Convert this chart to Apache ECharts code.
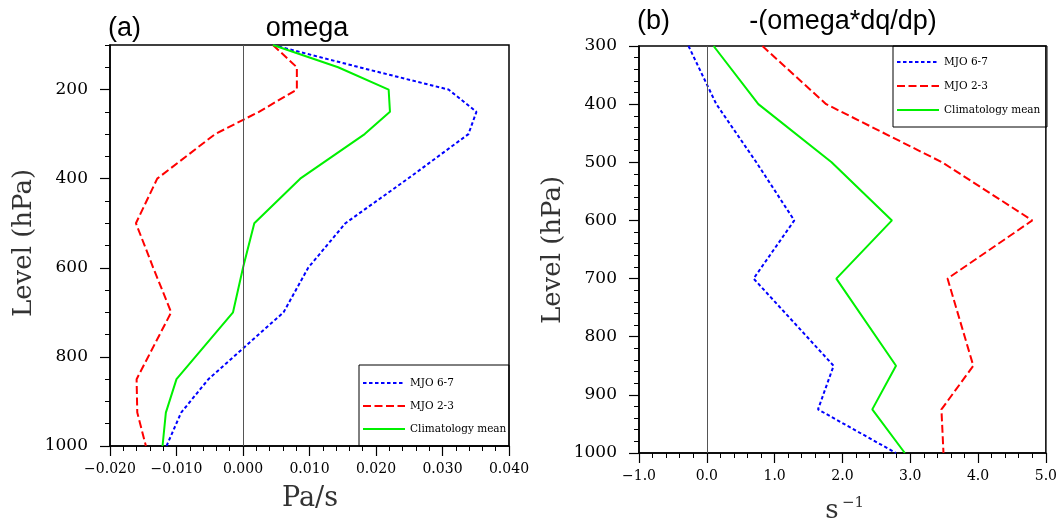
<!DOCTYPE html>
<html>
<head>
<meta charset="utf-8">
<script src="https://cdn.jsdelivr.net/npm/echarts@6/dist/echarts.min.js"></script>
<style>html,body{margin:0;padding:0;background:#fff;}#c{width:1060px;height:522px;}</style>
</head>
<body>
<div id="c"></div>
<script>
// ---- data ----
const seriesNames = ['MJO 6-7', 'MJO 2-3', 'Climatology mean'];

// panel (a): omega (Pa/s)
const levelsA = [100, 150, 200, 250, 300, 400, 500, 600, 700, 850, 925, 1000];
const mjo67A = [0.0045, 0.0175, 0.0309, 0.0351, 0.0339, 0.0248, 0.0154, 0.0098, 0.0061, -0.0052, -0.0093, -0.0115];
const mjo23A = [0.0045, 0.0081, 0.0081, 0.0024, -0.0042, -0.0129, -0.0161, -0.0135, -0.0108, -0.0160, -0.0159, -0.0146];
const climA  = [0.0045, 0.0143, 0.0219, 0.0221, 0.0183, 0.0086, 0.0017, 0.0000, -0.0015, -0.0100, -0.0116, -0.0121];

// panel (b): -(omega*dq/dp) (s^-1)
const levelsB = [300, 400, 500, 600, 700, 850, 925, 1000];
const mjo67B = [-0.27, 0.14, 0.73, 1.29, 0.69, 1.87, 1.64, 2.79];
const mjo23B = [0.82, 1.76, 3.47, 4.80, 3.55, 3.93, 3.46, 3.49];
const climB  = [0.10, 0.76, 1.84, 2.73, 1.91, 2.79, 2.44, 2.92];

// axis tick settings
const majorLevelTicksA = [200, 400, 600, 800, 1000];

// ---- styles ----
const BLUE = '#0000ff', RED = '#ff0000', GREEN = '#00f000';
const styles = [
  {color: BLUE, type: [3.5, 2.5]},
  {color: RED, type: [8, 3.5]},
  {color: GREEN, type: 'solid'}
];
const SERIF = '"DejaVu Serif", serif';
const SANS = '"Liberation Sans", Arial, sans-serif';

function pairs(xs, ys) { return xs.map((x, i) => [x, ys[i]]); }
function fmt(v, d) {
  const s = Math.abs(v).toFixed(d);
  return (v < -1e-9 ? '\u2212' : '') + s;
}

const zeroLine = {
  silent: true, symbol: ['none', 'none'], label: {show: false},
  lineStyle: {color: '#555', width: 1, type: 'solid'},
  data: [{xAxis: 0}], animation: false
};

function mkSeries(name, idx, xs, ys, gi, withZero) {
  const s = {
    name: name, type: 'line', xAxisIndex: gi, yAxisIndex: gi === 0 ? 0 : 2,
    data: pairs(xs, ys), symbol: 'none', showSymbol: false,
    lineStyle: {color: styles[idx].color, width: 2, type: styles[idx].type},
    itemStyle: {color: styles[idx].color},
    z: 3
  };
  if (withZero) s.markLine = zeroLine;
  return s;
}

const axisLineStyle = {color: '#000', width: 1.5};
const legendCommon = {
  data: seriesNames, orient: 'vertical', padding: 0,
  itemWidth: 42, itemHeight: 12,
  itemStyle: {opacity: 0},
  textStyle: {fontFamily: SERIF, fontSize: 10.5, color: '#000', lineHeight: 12}
};

const option = {
  animation: false,
  backgroundColor: '#fff',
  grid: [
    {left: 110, top: 45, width: 399, height: 401, show: true, borderColor: '#000', borderWidth: 1.5, backgroundColor: 'transparent'},
    {left: 639, top: 46, width: 408, height: 407, show: true, borderColor: '#000', borderWidth: 1.5, backgroundColor: 'transparent'}
  ],
  xAxis: [
    {gridIndex: 0, type: 'value', min: -0.02, max: 0.04, interval: 0.01,
     axisLine: {show: true, onZero: false, lineStyle: axisLineStyle},
     axisTick: {show: true, length: 10, lineStyle: {color: '#000', width: 1.2}},
     minorTick: {show: true, splitNumber: 5, length: 5, lineStyle: {color: '#000', width: 1}},
     axisLabel: {margin: 16, fontFamily: SERIF, fontSize: 14, color: '#000', formatter: v => fmt(v, 3)},
     splitLine: {show: false}},
    {gridIndex: 1, type: 'value', min: -1, max: 5, interval: 1,
     axisLine: {show: true, onZero: false, lineStyle: axisLineStyle},
     axisTick: {show: true, length: 10, lineStyle: {color: '#000', width: 1.2}},
     minorTick: {show: true, splitNumber: 5, length: 5, lineStyle: {color: '#000', width: 1}},
     axisLabel: {margin: 16, fontFamily: SERIF, fontSize: 14, color: '#000', formatter: v => fmt(v, 1)},
     splitLine: {show: false}}
  ],
  yAxis: [
    {gridIndex: 0, type: 'value', inverse: true, min: 100, max: 1000, interval: 50, position: 'left',
     axisLine: {show: true, onZero: false, lineStyle: axisLineStyle},
     axisTick: {show: true, length: 5, lineStyle: {color: '#000', width: 1}},
     axisLabel: {margin: 22, fontFamily: SERIF, fontSize: 17, color: '#000',
                 formatter: v => (Math.round(v) % 200 === 0 ? String(Math.round(v)) : '')},
     splitLine: {show: false}},
    {gridIndex: 0, type: 'value', inverse: true, min: 100, max: 1000, interval: 50, position: 'left',
     axisLine: {show: false, onZero: false},
     axisTick: {show: true, length: 10, customValues: majorLevelTicksA, lineStyle: {color: '#000', width: 1.2}},
     axisLabel: {show: false},
     splitLine: {show: false}},
    {gridIndex: 1, type: 'value', inverse: true, min: 300, max: 1000, interval: 100, position: 'left',
     axisLine: {show: true, onZero: false, lineStyle: axisLineStyle},
     axisTick: {show: true, length: 10, lineStyle: {color: '#000', width: 1.2}},
     minorTick: {show: true, splitNumber: 5, length: 5, lineStyle: {color: '#000', width: 1}},
     axisLabel: {margin: 22, fontFamily: SERIF, fontSize: 17, color: '#000', formatter: v => String(Math.round(v))},
     splitLine: {show: false}}
  ],
  legend: [
    Object.assign({}, legendCommon, {left: 362, top: 377, itemGap: 11}),
    Object.assign({}, legendCommon, {left: 896, top: 56, itemGap: 12})
  ],
  graphic: [
    {type: 'rect', shape: {x: 359, y: 365, width: 150, height: 81}, style: {fill: 'none', stroke: '#000', lineWidth: 1}, silent: true},
    {type: 'rect', shape: {x: 893, y: 46, width: 154, height: 81}, style: {fill: 'none', stroke: '#000', lineWidth: 1}, silent: true},
    {type: 'text', x: 108, y: 29, style: {text: '(a)', font: '27px ' + SANS, fill: '#000', textAlign: 'left', textVerticalAlign: 'middle'}},
    {type: 'text', x: 307, y: 29, style: {text: 'omega', font: '27px ' + SANS, fill: '#000', textAlign: 'center', textVerticalAlign: 'middle'}},
    {type: 'text', x: 637, y: 22, style: {text: '(b)', font: '27px ' + SANS, fill: '#000', textAlign: 'left', textVerticalAlign: 'middle'}},
    {type: 'text', x: 843, y: 22, style: {text: '-(omega*dq/dp)', font: '27px ' + SANS, fill: '#000', textAlign: 'center', textVerticalAlign: 'middle'}},
    {type: 'text', x: 24, y: 243, rotation: Math.PI / 2, style: {text: 'Level (hPa)', font: '26px ' + SERIF, fill: '#333', textAlign: 'center', textVerticalAlign: 'middle'}},
    {type: 'text', x: 553, y: 250, rotation: Math.PI / 2, style: {text: 'Level (hPa)', font: '26px ' + SERIF, fill: '#333', textAlign: 'center', textVerticalAlign: 'middle'}},
    {type: 'text', x: 310, y: 499, style: {text: 'Pa/s', font: '27px ' + SERIF, fill: '#333', textAlign: 'center', textVerticalAlign: 'middle'}},
    {type: 'text', x: 832, y: 511, style: {text: 's', font: '26px ' + SERIF, fill: '#333', textAlign: 'center', textVerticalAlign: 'middle'}},
    {type: 'text', x: 842, y: 503, style: {text: '\u22121', font: '15px ' + SERIF, fill: '#333', textAlign: 'left', textVerticalAlign: 'middle'}}
  ],
  series: [
    mkSeries(seriesNames[0], 0, mjo67A, levelsA, 0, false),
    mkSeries(seriesNames[1], 1, mjo23A, levelsA, 0, false),
    mkSeries(seriesNames[2], 2, climA, levelsA, 0, true),
    mkSeries(seriesNames[0], 0, mjo67B, levelsB, 1, false),
    mkSeries(seriesNames[1], 1, mjo23B, levelsB, 1, false),
    mkSeries(seriesNames[2], 2, climB, levelsB, 1, true)
  ]
};

const chart = echarts.init(document.getElementById('c'), null, {renderer: 'canvas'});
chart.setOption(option);
</script>
</body>
</html>
